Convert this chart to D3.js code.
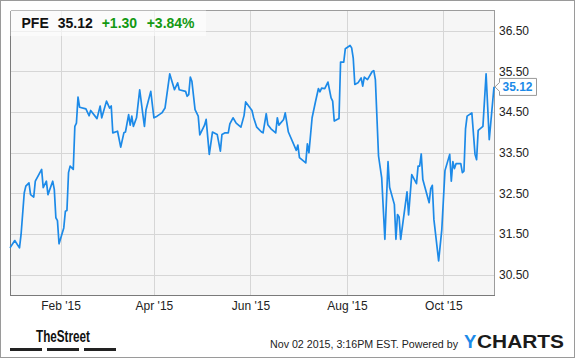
<!DOCTYPE html>
<html>
<head>
<meta charset="utf-8">
<script src="https://cdn.jsdelivr.net/npm/d3@7"></script>
<style>
  body { margin: 0; background: #fff; }
  svg { display: block; font-family: Arial, "Liberation Sans", sans-serif; }
</style>
</head>
<body>
<svg id="chart" width="575" height="358"></svg>
<script>
// header / footer text
const ticker = 'PFE';
const lastPrice = 35.12;
const changeAbs = '+1.30';
const changePct = '+3.84%';
const stamp = 'Nov 02 2015, 3:16PM EST.  Powered by';

// closing prices
const dates = [
  '2014-12-31', '2015-01-03', '2015-01-06', '2015-01-07', '2015-01-09', '2015-01-10', '2015-01-12', '2015-01-13',
  '2015-01-15', '2015-01-16', '2015-01-20', '2015-01-21', '2015-01-23', '2015-01-24', '2015-01-27', '2015-01-28',
  '2015-01-29', '2015-01-30', '2015-01-31', '2015-02-03', '2015-02-04', '2015-02-05', '2015-02-06', '2015-02-07',
  '2015-02-09', '2015-02-10', '2015-02-11', '2015-02-12', '2015-02-13', '2015-02-17', '2015-02-19', '2015-02-20',
  '2015-02-24', '2015-02-26', '2015-02-27', '2015-03-02', '2015-03-04', '2015-03-05', '2015-03-06', '2015-03-09',
  '2015-03-11', '2015-03-13', '2015-03-14', '2015-03-16', '2015-03-17', '2015-03-18', '2015-03-19', '2015-03-21',
  '2015-03-23', '2015-03-25', '2015-03-26', '2015-03-27', '2015-03-30', '2015-04-01', '2015-04-03', '2015-04-06',
  '2015-04-08', '2015-04-11', '2015-04-14', '2015-04-16', '2015-04-17', '2015-04-21', '2015-04-22', '2015-04-23',
  '2015-04-24', '2015-04-25', '2015-04-27', '2015-04-29', '2015-04-30', '2015-05-03', '2015-05-04', '2015-05-06',
  '2015-05-08', '2015-05-11', '2015-05-13', '2015-05-14', '2015-05-16', '2015-05-18', '2015-05-19', '2015-05-21',
  '2015-05-23', '2015-05-26', '2015-05-28', '2015-05-29', '2015-06-02', '2015-06-03', '2015-06-05', '2015-06-08',
  '2015-06-09', '2015-06-11', '2015-06-12', '2015-06-14', '2015-06-17', '2015-06-18', '2015-06-19', '2015-06-22',
  '2015-06-23', '2015-06-25', '2015-06-30', '2015-07-01', '2015-07-02', '2015-07-06', '2015-07-07', '2015-07-08',
  '2015-07-10', '2015-07-12', '2015-07-14', '2015-07-15', '2015-07-16', '2015-07-18', '2015-07-20', '2015-07-22',
  '2015-07-23', '2015-07-24', '2015-07-27', '2015-07-28', '2015-07-30', '2015-07-31', '2015-08-03', '2015-08-04',
  '2015-08-05', '2015-08-06', '2015-08-08', '2015-08-10', '2015-08-11', '2015-08-12', '2015-08-14', '2015-08-17',
  '2015-08-18', '2015-08-19', '2015-08-21', '2015-08-23', '2015-08-25', '2015-08-27', '2015-08-28', '2015-08-31',
  '2015-09-01', '2015-09-02', '2015-09-03', '2015-09-04', '2015-09-08', '2015-09-09', '2015-09-11', '2015-09-14',
  '2015-09-15', '2015-09-16', '2015-09-17', '2015-09-18', '2015-09-22', '2015-09-23', '2015-09-24', '2015-09-25',
  '2015-09-28', '2015-09-30', '2015-10-02', '2015-10-05', '2015-10-06', '2015-10-07', '2015-10-08', '2015-10-09',
  '2015-10-12', '2015-10-13', '2015-10-14', '2015-10-15', '2015-10-16', '2015-10-19', '2015-10-21', '2015-10-22',
  '2015-10-23', '2015-10-26', '2015-10-28', '2015-10-30', '2015-11-02'
];
const closes = [
  31.16, 31.34, 31.16, 31.49, 32.51, 32.68, 32.76, 32.47,
  32.41, 32.80, 33.09, 32.64, 32.80, 32.47, 32.80, 32.60,
  31.90, 31.83, 31.26, 31.65, 32.06, 32.08, 33.01, 33.17,
  33.09, 34.15, 34.23, 34.87, 34.62, 34.58, 34.41, 34.54,
  34.34, 34.65, 34.36, 34.77, 34.60, 34.65, 33.99, 34.03,
  33.64, 33.99, 34.01, 34.44, 34.18, 34.40, 34.15, 34.36,
  35.05, 34.44, 34.15, 34.56, 35.01, 34.36, 34.40, 34.48,
  34.60, 35.44, 35.05, 35.22, 35.05, 35.01, 34.89, 34.93,
  35.36, 35.26, 34.56, 34.40, 33.94, 34.18, 34.32, 33.46,
  34.01, 33.95, 33.54, 33.95, 33.99, 33.99, 34.21, 34.36,
  34.23, 34.13, 34.42, 34.75, 34.54, 34.37, 34.13, 34.01,
  33.99, 34.46, 34.19, 34.09, 33.99, 34.36, 34.18, 34.32,
  34.48, 34.01, 33.56, 33.69, 33.38, 33.25, 33.72, 33.50,
  34.36, 34.73, 35.08, 35.00, 35.09, 35.08, 35.24, 34.85,
  34.77, 34.28, 34.34, 35.73, 35.73, 36.06, 36.14, 36.08,
  35.83, 35.18, 35.22, 35.34, 35.14, 35.36, 35.30, 35.50,
  35.52, 35.30, 33.42, 32.88, 31.37, 33.28, 32.65, 32.23,
  31.37, 31.98, 31.92, 31.37, 32.54, 31.97, 32.96, 32.74,
  33.17, 33.17, 33.47, 32.84, 32.27, 32.62, 32.70, 31.86,
  30.84, 31.61, 33.06, 33.46, 32.80, 33.28, 33.11, 33.23,
  33.23, 33.01, 33.05, 34.09, 34.40, 34.48, 33.46, 33.33,
  34.05, 34.15, 35.44, 33.82, 35.12
];

// axes
const xDomain = ['2014-12-31', '2015-11-02'];
const xTicks = ['2015-02-01', '2015-04-01', '2015-06-01', '2015-08-01', '2015-10-01'];
const yDomain = [30, 37];
const yTicks = [30.5, 31.5, 32.5, 33.5, 34.5, 35.5, 36.5];

const parse = d3.utcParse('%Y-%m-%d');
const data = dates.map((d, i) => ({ date: parse(d), close: closes[i] }));

const plotLeft = 10, plotRight = 494, plotTop = 10.5, plotBottom = 295;
const lineColor = '#1c8ae8';

const svg = d3.select('#chart');

// outer frame
svg.append('rect')
  .attr('x', 0.5).attr('y', 0.5).attr('width', 574).attr('height', 357)
  .attr('fill', '#fff').attr('stroke', '#9a9a9a');

const x = d3.scaleUtc().domain(xDomain.map(parse)).range([plotLeft, plotRight]);
const y = d3.scaleLinear().domain(yDomain).range([plotBottom, plotTop]);

// plot background
svg.append('rect')
  .attr('x', plotLeft).attr('y', plotTop)
  .attr('width', plotRight - plotLeft).attr('height', plotBottom - plotTop)
  .attr('fill', '#f6f6f6');

// grid
const gx = svg.append('g')
  .attr('transform', `translate(0,${plotBottom})`)
  .call(d3.axisBottom(x).tickValues(xTicks.map(parse)).tickSize(-(plotBottom - plotTop)).tickFormat(''));
const gy = svg.append('g')
  .attr('transform', `translate(${plotLeft},0)`)
  .call(d3.axisLeft(y).tickValues(yTicks).tickSize(-(plotRight - plotLeft)).tickFormat(''));
[gx, gy].forEach(g => {
  g.select('.domain').remove();
  g.selectAll('.tick line').attr('stroke', '#d6d6d6').attr('shape-rendering', 'crispEdges');
});

// plot border
svg.append('path')
  .attr('d', `M${plotLeft + 0.5},${plotTop} H${plotRight + 0.5} V${plotBottom + 0.5}`)
  .attr('fill', 'none').attr('stroke', '#9c9c9c').attr('shape-rendering', 'crispEdges');
svg.append('path')
  .attr('d', `M${plotLeft + 0.5},${plotTop} V${plotBottom + 0.5} H${plotRight + 0.5}`)
  .attr('fill', 'none').attr('stroke', '#7a7a7a').attr('shape-rendering', 'crispEdges');

// price line
svg.append('path')
  .datum(data)
  .attr('fill', 'none')
  .attr('stroke', lineColor)
  .attr('stroke-width', 1.7)
  .attr('stroke-linejoin', 'round')
  .attr('d', d3.line().x(d => x(d.date)).y(d => y(d.close)));

// axis labels
const ax = svg.append('g')
  .attr('transform', `translate(0,${plotBottom})`)
  .call(d3.axisBottom(x).tickValues(xTicks.map(parse)).tickSize(0).tickPadding(6)
    .tickFormat(d3.utcFormat("%b '%y")));
const ay = svg.append('g')
  .attr('transform', `translate(${plotRight},0)`)
  .call(d3.axisRight(y).tickValues(yTicks).tickSize(0).tickPadding(5)
    .tickFormat(d3.format('.2f')));
[ax, ay].forEach(g => {
  g.select('.domain').remove();
  g.selectAll('text').attr('fill', '#222').attr('font-size', 12)
    .attr('font-family', 'Arial, "Liberation Sans", sans-serif');
});

// last value callout
const ly = y(lastPrice);
svg.append('path')
  .attr('d', `M${plotRight + 1},${ly} L${plotRight + 5.5},${ly - 4.5} V${ly - 8.5} H${plotRight + 42.5} V${ly + 8.5} H${plotRight + 5.5} V${ly + 4.5} Z`)
  .attr('fill', '#fff').attr('stroke', '#999');
svg.append('text')
  .attr('x', plotRight + 8.5).attr('y', ly + 4.5)
  .attr('font-size', 12).attr('font-weight', 'bold').attr('fill', lineColor)
  .text(d3.format('.2f')(lastPrice));

// header box
svg.append('rect')
  .attr('x', plotLeft + 0.5).attr('y', plotTop).attr('width', 195.5).attr('height', 25.5)
  .attr('fill', 'rgba(255,255,255,0.6)');
const header = [
  { t: ticker, x: 21.5, c: '#111' },
  { t: d3.format('.2f')(lastPrice), x: 57.7, c: '#111' },
  { t: changeAbs, x: 101.7, c: '#139913' },
  { t: changePct, x: 146.7, c: '#139913' }
];
svg.selectAll('.hdr').data(header).join('text')
  .attr('class', 'hdr')
  .attr('x', d => d.x).attr('y', 28.3)
  .attr('font-size', 14).attr('font-weight', 'bold').attr('fill', d => d.c)
  .text(d => d.t);

// footer: TheStreet logo
svg.append('text')
  .attr('x', 36).attr('y', 341.7)
  .attr('font-family', '"Liberation Sans Narrow", Arial, sans-serif')
  .attr('font-size', 16).attr('font-weight', 'bold').attr('fill', '#111')
  .attr('textLength', 54).attr('lengthAdjust', 'spacingAndGlyphs')
  .text('TheStreet');
[10, 47, 84].forEach(bx => {
  svg.append('rect').attr('x', bx).attr('y', 348).attr('width', 32).attr('height', 3).attr('fill', '#222');
});

// footer: timestamp + YCharts
svg.append('text')
  .attr('x', 270).attr('y', 348.3)
  .attr('font-size', 11).attr('fill', '#222')
  .attr('textLength', 188).attr('lengthAdjust', 'spacingAndGlyphs')
  .text(stamp);
svg.append('text')
  .attr('x', 464).attr('y', 348.3)
  .attr('font-size', 18.5).attr('font-weight', 'bold').attr('fill', lineColor)
  .text('Y');
svg.append('text')
  .attr('x', 477).attr('y', 348.3)
  .attr('font-size', 18.5).attr('font-weight', 'bold').attr('fill', '#1a1a1a')
  .attr('textLength', 87).attr('lengthAdjust', 'spacingAndGlyphs')
  .text('CHARTS');
</script>
</body>
</html>
